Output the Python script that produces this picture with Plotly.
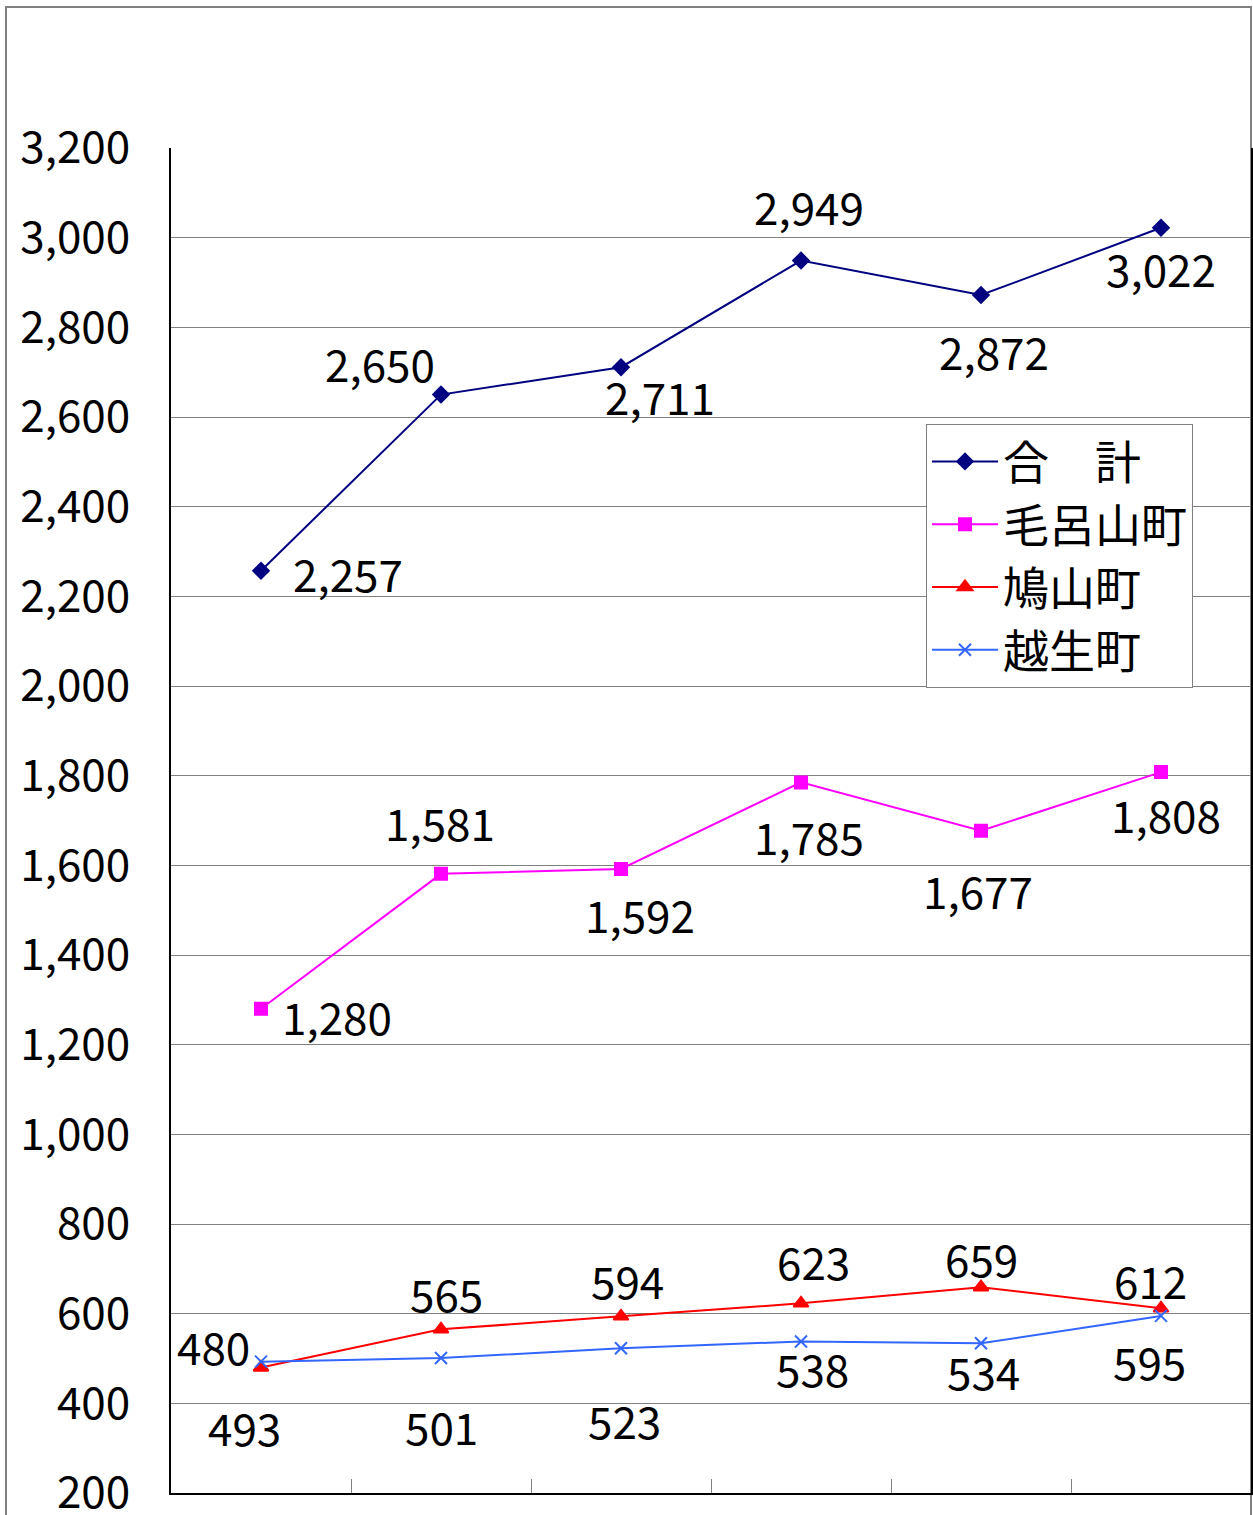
import plotly.graph_objects as go

categories = [0, 1, 2, 3, 4, 5]
series_names = ["合　計", "毛呂山町", "鳩山町", "越生町"]
total = [2257, 2650, 2711, 2949, 2872, 3022]
moroyama = [1280, 1581, 1592, 1785, 1677, 1808]
hatoyama = [480, 565, 594, 623, 659, 612]
ogose = [493, 501, 523, 538, 534, 595]
y_ticks = [200, 400, 600, 800, 1000, 1200, 1400, 1600, 1800, 2000, 2200, 2400, 2600, 2800, 3000, 3200]

series = [total, moroyama, hatoyama, ogose]
colors = ["#000080", "#FF00FF", "#FF0000", "#3366FF"]
symbols = ["diamond", "square", "triangle-up", "x-thin"]
msizes = [12, 12, 13, 12]

# label offsets in pixels (dx right, dy down) relative to each point
offsets = [
    [(87, 6), (-61, -28), (39, 33), (8, -51), (13, 60), (0, 44)],
    [(76, 11), (-1, -48), (19, 49), (8, 58), (-3, 63), (5, 46)],
    [(-48, -17), (5, -32), (6, -32), (12, -38), (0, -25), (-11, -24)],
    [(-17, 69), (0, 72), (3, 76), (11, 31), (2, 32), (-12, 49)],
]

FONT = "Noto Sans CJK JP"
FS = 44

fig = go.Figure()
for name, vals, c, s, ms in zip(series_names, series, colors, symbols, msizes):
    fig.add_trace(go.Scatter(
        x=categories, y=vals, name=name, mode="lines+markers",
        line=dict(color=c, width=2),
        marker=dict(symbol=s, size=ms, color=c, line=dict(color=c, width=2)),
    ))

annotations = []
for vals, offs in zip(series, offsets):
    for xi, v, (dx, dy) in zip(categories, vals, offs):
        annotations.append(dict(
            x=xi, y=v, xref="x", yref="y", text=f"{v:,}", showarrow=False,
            xshift=dx, yshift=-dy + 4, font=dict(family=FONT, size=FS, color="black"),
            xanchor="center", yanchor="middle",
        ))

fig.update_layout(
    width=1253, height=1515,
    margin=dict(l=171, r=2, t=148, b=22),
    paper_bgcolor="white", plot_bgcolor="white",
    font=dict(family=FONT, size=FS, color="black"),
    annotations=annotations,
    showlegend=True,
    legend=dict(
        x=(926 - 171) / 1080, y=(1493 - 424) / 1345, xanchor="left", yanchor="top",
        bordercolor="#808080", borderwidth=1, bgcolor="white",
        font=dict(family=FONT, size=46, color="black"),
        itemwidth=66, entrywidth=216, entrywidthmode="pixels",
    ),
    shapes=[dict(
        type="rect", xref="paper", yref="paper",
        x0=(6 - 171) / 1080, x1=1.0, y0=-0.1, y1=(1493 - 7) / 1345,
        line=dict(color="#808080", width=2), fillcolor="rgba(0,0,0,0)", layer="below",
    )],
)

fig.update_xaxes(
    range=[-0.5, 5.5], tickvals=[0.5, 1.5, 2.5, 3.5, 4.5], showticklabels=False,
    ticks="inside", ticklen=14, tickcolor="#808080", tickwidth=1,
    showline=True, linecolor="black", linewidth=2, showgrid=False, zeroline=False,
    automargin=False,
)
fig.update_yaxes(
    range=[200, 3200], tickvals=y_ticks, tickformat=",", ticks="inside", ticklen=12,
    tickcolor="#808080", showline=True, linecolor="black", linewidth=2, mirror=True,
    showgrid=True, gridcolor="#808080", gridwidth=1, zeroline=False,
    ticklabelstandoff=30, ticklabeloverflow="allow", automargin=False,
    tickfont=dict(family=FONT, size=FS, color="black"),
)

fig.write_html(
    "out.html",
    config={"displayModeBar": False},
    post_script="document.body.style.margin='0';document.body.style.overflow='hidden';",
)
